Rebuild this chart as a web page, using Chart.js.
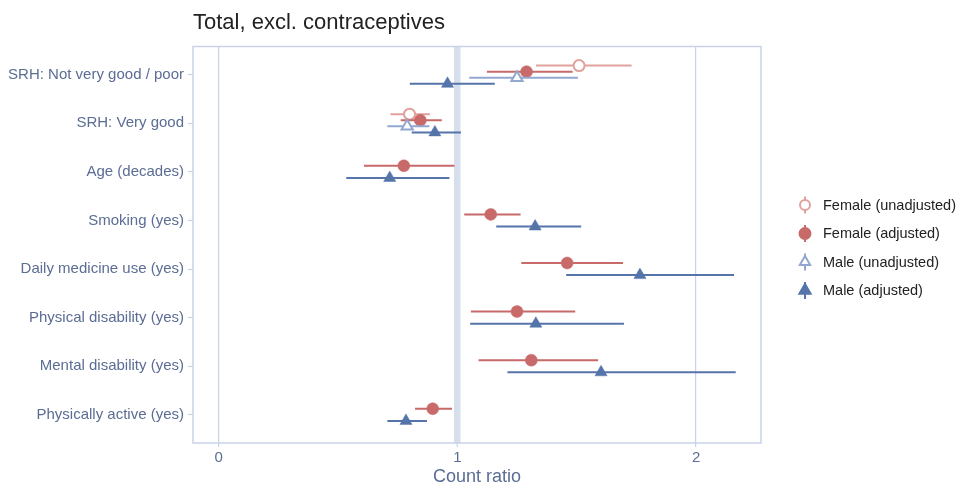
<!DOCTYPE html>
<html>
<head>
<meta charset="utf-8">
<script src="https://cdn.jsdelivr.net/npm/chart.js@4.4.1/dist/chart.umd.min.js"></script>
<style>
  html, body { margin: 0; padding: 0; background: #fff; }
  #wrap { width: 960px; height: 486px; }
</style>
</head>
<body>
<div id="wrap"><canvas id="chart"></canvas></div>
<script>
const categories = [
    'SRH: Not very good / poor',
    'SRH: Very good',
    'Age (decades)',
    'Smoking (yes)',
    'Daily medicine use (yes)',
    'Physical disability (yes)',
    'Mental disability (yes)',
    'Physically active (yes)',
];
const series_names = ['Female (unadjusted)', 'Female (adjusted)', 'Male (unadjusted)', 'Male (adjusted)'];

// count ratio estimate + 95% interval per category, null = not estimated
const female_unadj = [1.51, 0.80, null, null, null, null, null, null];
const female_unadj_lo = [1.33, 0.72, null, null, null, null, null, null];
const female_unadj_hi = [1.73, 0.885, null, null, null, null, null, null];

const female_adj = [1.29, 0.845, 0.776, 1.14, 1.46, 1.25, 1.31, 0.897];
const female_adj_lo = [1.124, 0.763, 0.609, 1.029, 1.268, 1.057, 1.089, 0.823];
const female_adj_hi = [1.483, 0.935, 0.988, 1.265, 1.694, 1.494, 1.59, 0.978];

const male_unadj = [1.25, 0.79, null, null, null, null, null, null];
const male_unadj_lo = [1.05, 0.707, null, null, null, null, null, null];
const male_unadj_hi = [1.505, 0.883, null, null, null, null, null, null];

const male_adj = [0.959, 0.906, 0.717, 1.326, 1.765, 1.329, 1.602, 0.785];
const male_adj_lo = [0.801, 0.809, 0.535, 1.163, 1.456, 1.054, 1.21, 0.707];
const male_adj_hi = [1.157, 1.015, 0.967, 1.519, 2.159, 1.698, 2.166, 0.873];

const x_ticks = [0, 1, 2];

const FONT = "'Liberation Sans', Arial, Helvetica, sans-serif";
const AXIS_TEXT = '#5b6d94';
const FRAME = '#c9d3e7';

const series = [
    { est: female_unadj, lo: female_unadj_lo, hi: female_unadj_hi, color: '#e2a19d', style: 'circle', open: true, radius: 5.5 },
    { est: female_adj, lo: female_adj_lo, hi: female_adj_hi, color: '#c86a6a', style: 'circle', open: false, radius: 6 },
    { est: male_unadj, lo: male_unadj_lo, hi: male_unadj_hi, color: '#92a8cf', style: 'triangle', open: true, radius: 6.5 },
    { est: male_adj, lo: male_adj_lo, hi: male_adj_hi, color: '#5574a9', style: 'triangle', open: false, radius: 7 },
];

// dodge like ggplot: width 0.5 shared among the series present in a row
const dodge_width = 0.5;
const row_y = (s, i) => {
    const present = series.map((sr, k) => k).filter(k => series[k].est[i] !== null);
    const n = present.length;
    const idx = present.indexOf(s);
    return i + (idx - (n - 1) / 2) * dodge_width / n;
};

const datasets = [];
series.forEach((sr, s) => {
    const whisker = [];
    const points = [];
    sr.est.forEach((v, i) => {
        if (v === null) return;
        const y = row_y(s, i);
        whisker.push({ x: sr.lo[i], y }, { x: sr.hi[i], y }, { x: NaN, y: NaN });
        points.push({ x: v, y });
    });
    datasets.push({
        type: 'line',
        label: series_names[s] + ' CI',
        data: whisker,
        borderColor: sr.color,
        borderWidth: 2,
        pointRadius: 0,
        spanGaps: false,
        fill: false,
        order: 10 - s * 2,
    });
    datasets.push({
        type: 'scatter',
        label: series_names[s],
        data: points,
        pointStyle: sr.style,
        pointRadius: sr.radius,
        backgroundColor: sr.open ? '#fff' : sr.color,
        borderColor: sr.color,
        borderWidth: sr.open ? 2 : 0.5,
        order: 9 - s * 2,
    });
});

// full rectangle around the panel
const frame = {
    id: 'frame',
    afterDatasetsDraw(chart) {
        const { ctx, chartArea: a } = chart;
        ctx.save();
        ctx.strokeStyle = FRAME;
        ctx.lineWidth = 1.5;
        ctx.strokeRect(a.left, a.top, a.right - a.left, a.bottom - a.top);
        ctx.restore();
    }
};

// legend with errorbar glyphs, on the right
const side_legend = {
    id: 'side_legend',
    afterDraw(chart) {
        const ctx = chart.ctx;
        const x0 = 805, y0 = 205, step = 28.5;
        ctx.save();
        series.forEach((sr, s) => {
            const y = y0 + s * step;
            ctx.strokeStyle = sr.color;
            ctx.lineWidth = 2;
            ctx.beginPath();
            ctx.moveTo(x0, y - 8.5);
            ctx.lineTo(x0, y + 8.5);
            ctx.stroke();
            ctx.fillStyle = sr.open ? '#fff' : sr.color;
            Chart.helpers.drawPoint(ctx, {
                pointStyle: sr.style,
                radius: sr.radius - 0.5,
                borderWidth: sr.open ? 2 : 0.5,
            }, x0, y);
            ctx.fillStyle = '#222';
            ctx.font = '14.5px ' + FONT;
            ctx.textBaseline = 'middle';
            ctx.textAlign = 'left';
            ctx.fillText(series_names[s], 823, y + 0.5);
        });
        ctx.restore();
    }
};

new Chart(document.getElementById('chart').getContext('2d'), {
    type: 'scatter',
    data: { datasets },
    options: {
        responsive: true,
        maintainAspectRatio: false,
        animation: false,
        events: [],
        layout: { padding: { left: 0, right: 199, top: 0, bottom: 0 } },
        plugins: {
            legend: { display: false },
            tooltip: { enabled: false },
            title: {
                display: true,
                text: 'Total, excl. contraceptives',
                align: 'start',
                fullSize: false,
                color: '#222',
                font: { family: FONT, size: 22, weight: 'normal', lineHeight: 1.2 },
                padding: { top: 10, bottom: 10.1 },
            },
        },
        scales: {
            x: {
                type: 'linear',
                min: -0.107,
                max: 2.272,
                afterBuildTicks: scale => { scale.ticks = x_ticks.map(v => ({ value: v })); },
                afterFit: scale => { scale.height = 43; },
                border: { display: false },
                grid: {
                    color: c => c.tick && c.tick.value === 1 ? '#d6dfeb' : '#c9d3e7',
                    lineWidth: c => c.tick && c.tick.value === 1 ? 6.5 : 1.2,
                    drawTicks: true,
                    tickLength: 4,
                    tickWidth: 1.2,
                    tickColor: FRAME,
                },
                ticks: {
                    color: AXIS_TEXT,
                    padding: 2,
                    font: { family: FONT, size: 15 },
                },
                title: {
                    display: true,
                    text: 'Count ratio',
                    color: AXIS_TEXT,
                    font: { family: FONT, size: 18, lineHeight: 1 },
                    padding: { top: 0, bottom: 0 },
                },
            },
            y: {
                type: 'linear',
                reverse: true,
                min: -0.58,
                max: 7.58,
                afterBuildTicks: scale => { scale.ticks = categories.map((c, i) => ({ value: i })); },
                afterFit: scale => { scale.width = 193; },
                border: { display: false },
                grid: {
                    drawOnChartArea: false,
                    drawTicks: true,
                    tickLength: 5,
                    tickColor: FRAME,
                    tickWidth: 1.2,
                },
                ticks: {
                    color: AXIS_TEXT,
                    padding: 4,
                    font: { family: FONT, size: 15 },
                    callback: v => categories[v],
                },
            },
        },
    },
    plugins: [frame, side_legend],
});
</script>
</body>
</html>
